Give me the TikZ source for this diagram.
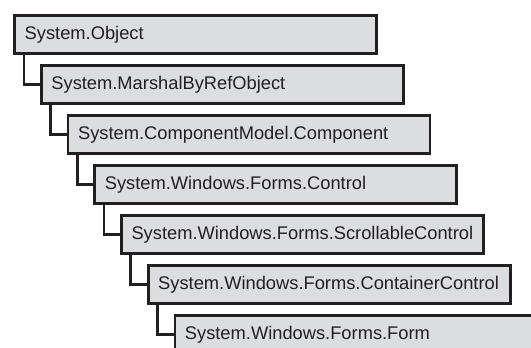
\documentclass[tikz,border=0pt]{standalone}
\usepackage{fontspec}
\setmainfont{Liberation Sans}
\definecolor{boxfill}{HTML}{DCDDDF}
\definecolor{ink}{HTML}{231F20}
\tikzset{
  classbox/.style={draw=ink, fill=boxfill, line width=2.7pt, anchor=north west,
    minimum width=362pt, minimum height=37.5pt, text width=342pt, align=left,
    inner xsep=8.5pt, inner ysep=0pt, text=ink,
    font=\fontsize{18.3}{22}\selectfont},
  inherit/.style={draw=ink, line width=2.5pt}
}
\begin{document}
\begin{tikzpicture}[x=1pt, y=-1pt]
  \useasboundingbox (0,0) rectangle (531,348);
  \clip (0,0) rectangle (531,348);
  % class hierarchy, each level shifted right and down
  \node[classbox] (obj)  at (13.35,14.35)  {System.Object};
  \node[classbox] (mbro) at (40.05,64.35)  {System.MarshalByRefObject};
  \node[classbox] (comp) at (66.75,114.35) {System.ComponentModel.Component};
  \node[classbox] (ctl)  at (93.45,164.35) {System.Windows.Forms.Control};
  \node[classbox] (scr)  at (120.15,214.35) {System.Windows.Forms.ScrollableControl};
  \node[classbox] (cont) at (146.85,264.35) {System.Windows.Forms.ContainerControl};
  \node[classbox] (form) at (173.55,314.35) {System.Windows.Forms.Form};
  % inheritance links
  \draw[inherit] ([xshift=10.5pt]obj.south west)  |- (mbro.west);
  \draw[inherit] ([xshift=10.5pt]mbro.south west) |- (comp.west);
  \draw[inherit] ([xshift=10.5pt]comp.south west) |- (ctl.west);
  \draw[inherit] ([xshift=10.5pt]ctl.south west)  |- (scr.west);
  \draw[inherit] ([xshift=10.5pt]scr.south west)  |- (cont.west);
  \draw[inherit] ([xshift=10.5pt]cont.south west) |- (form.west);
\end{tikzpicture}
\end{document}
